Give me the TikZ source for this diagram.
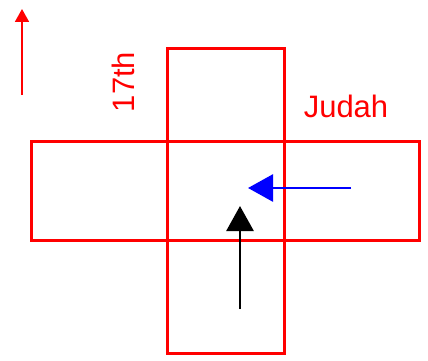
\documentclass[tikz,border=0pt]{standalone}
\usepackage{fontspec}
\setmainfont{Liberation Sans}
\usetikzlibrary{arrows.meta}
\begin{document}
\begin{tikzpicture}[x=1pt,y=-1pt,
  box/.style={draw=red,line width=3pt,inner sep=0pt,fill=none},
  lbl/.style={text=red,font=\fontsize{31}{37}\selectfont,inner sep=0pt},
  arr/.style={line width=2.8pt,-{Triangle[length=25pt,width=27pt]}}]
\useasboundingbox (0,0) rectangle (428,361);
\node[box,minimum width=117pt,minimum height=304pt] (vert) at (225.5,201) {};
\node[box,minimum width=388pt,minimum height=99pt] (horz) at (225,190.5) {};
\node[lbl,anchor=base] (judah) at (346,117) {Judah};
\node[lbl,anchor=base,rotate=90] (seventeen) at (134,82) {17th};
\coordinate (r1) at (22,95);
\coordinate (r2) at (22,9);
\draw[red,line width=1.8pt,-{Triangle[length=13pt,width=14pt]}] (r1) -- (r2);
\coordinate (b1) at (351,188);
\coordinate (b2) at (248,188);
\draw[arr,blue] (b1) -- (b2);
\coordinate (k1) at (240,309);
\coordinate (k2) at (240,206);
\draw[arr,black] (k1) -- (k2);
\end{tikzpicture}
\end{document}
